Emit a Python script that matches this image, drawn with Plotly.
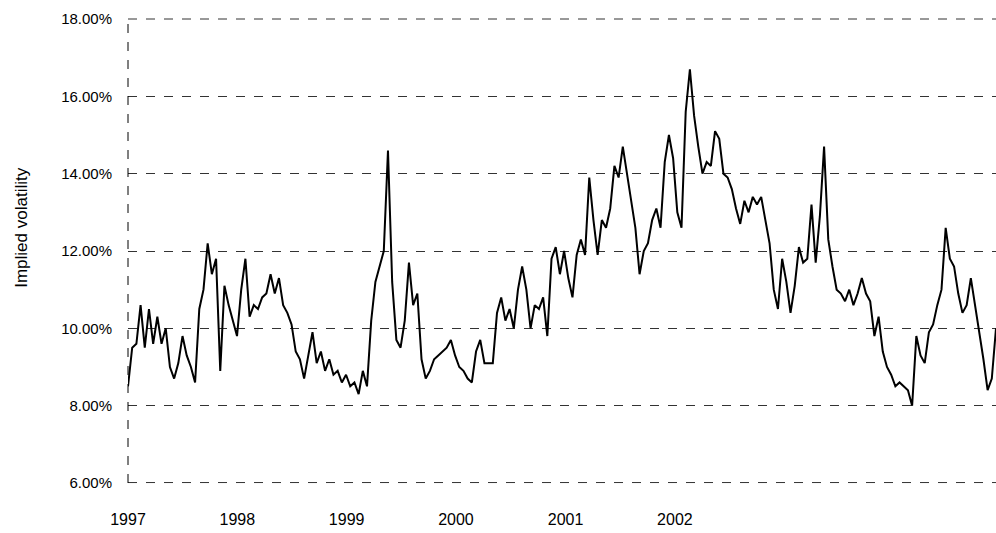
import pandas as pd
import plotly.graph_objects as go

# Biweekly implied volatility readings (%), starting Jan 1997
vol = [
    8.5, 9.5, 9.6, 10.6, 9.5, 10.5, 9.6, 10.3, 9.6, 10.0,
    9.0, 8.7, 9.1, 9.8, 9.3, 9.0, 8.6, 10.5, 11.0, 12.2,
    11.4, 11.8, 8.9, 11.1, 10.6, 10.2, 9.8, 11.0, 11.8, 10.3,
    10.6, 10.5, 10.8, 10.9, 11.4, 10.9, 11.3, 10.6, 10.4, 10.1,
    9.4, 9.2, 8.7, 9.3, 9.9, 9.1, 9.4, 8.9, 9.2, 8.8,
    8.9, 8.6, 8.8, 8.5, 8.6, 8.3, 8.9, 8.5, 10.2, 11.2,
    11.6, 12.0, 14.6, 11.2, 9.7, 9.5, 10.2, 11.7, 10.6, 10.9,
    9.2, 8.7, 8.9, 9.2, 9.3, 9.4, 9.5, 9.7, 9.3, 9.0,
    8.9, 8.7, 8.6, 9.4, 9.7, 9.1, 9.1, 9.1, 10.4, 10.8,
    10.2, 10.5, 10.0, 11.0, 11.6, 11.0, 10.0, 10.6, 10.5, 10.8,
    9.8, 11.8, 12.1, 11.4, 12.0, 11.3, 10.8, 11.9, 12.3, 11.9,
    13.9, 12.8, 11.9, 12.8, 12.6, 13.1, 14.2, 13.9, 14.7, 14.0,
    13.2, 12.6, 11.4, 12.0, 12.2, 12.8, 13.1, 12.6, 14.3, 15.0,
    14.4, 13.0, 12.6, 15.6, 16.7, 15.5, 14.7, 14.0, 14.3, 14.2,
    15.1, 14.9, 14.0, 13.9, 13.6, 13.1, 12.7, 13.3, 13.0, 13.4,
    13.2, 13.4, 12.8, 12.2, 11.0, 10.5, 11.8, 11.2, 10.4, 11.1,
    12.1, 11.7, 11.8, 13.2, 11.7, 12.9, 14.7, 12.3, 11.6, 11.0,
    10.9, 10.7, 11.0, 10.6, 10.9, 11.3, 10.9, 10.7, 9.8, 10.3,
    9.4, 9.0, 8.8, 8.5, 8.6, 8.5, 8.4, 8.0, 9.8, 9.3,
    9.1, 9.9, 10.1, 10.6, 11.0, 12.6, 11.8, 11.6, 10.9, 10.4,
    10.6, 11.3, 10.6, 10.0, 9.2, 8.4, 8.7, 10.0,
]
dates = pd.date_range("1997-01-01", periods=len(vol), freq="14D")

year_ticks = ["1997-01-01", "1998-01-01", "1999-01-01", "2000-01-01",
              "2001-01-01", "2002-01-01"]
year_labels = ["1997", "1998", "1999", "2000", "2001", "2002"]
y_ticks = [6, 8, 10, 12, 14, 16, 18]
y_labels = ["6.00%", "8.00%", "10.00%", "12.00%", "14.00%", "16.00%", "18.00%"]

fig = go.Figure()
fig.add_trace(go.Scatter(
    x=dates, y=vol, mode="lines",
    line=dict(color="black", width=2),
    showlegend=False,
))

font = dict(family="Liberation Sans, Arial, sans-serif", color="black")

grid_line = dict(color="#333333", width=1, dash="dash")
edge_shapes = [
    dict(type="line", xref="paper", yref="paper", x0=0, x1=1,
         y0=0.001, y1=0.001, line=grid_line),
    dict(type="line", xref="paper", yref="paper", x0=0, x1=1,
         y0=1, y1=1, line=grid_line),
    dict(type="line", xref="paper", yref="paper", x0=0, x1=0, y0=0, y1=1,
         line=dict(color="black", width=1, dash="dash")),
]

fig.update_layout(
    width=996, height=533,
    paper_bgcolor="white", plot_bgcolor="white",
    margin=dict(l=128, r=0, t=19, b=50),
    font=dict(**font, size=14),
    xaxis=dict(
        range=[dates[0], dates[-1]],
        tickvals=year_ticks, ticktext=year_labels,
        showgrid=False, zeroline=False, showline=False,
        ticks="", ticklabelstandoff=25,
        tickfont=dict(**font, size=16),
        automargin=False,
    ),
    yaxis=dict(
        range=[6, 18],
        tickvals=y_ticks, ticktext=y_labels,
        showgrid=True, gridcolor="#333333", griddash="dash", gridwidth=1,
        zeroline=False, showline=False,
        ticks="", ticklabelstandoff=15,
        tickfont=dict(**font, size=15),
        automargin=False,
    ),
    annotations=[dict(
        text="Implied volatility", textangle=-90, showarrow=False,
        xref="paper", yref="paper", x=0, y=0.55, xanchor="center",
        yanchor="middle", xshift=-106, font=dict(**font, size=17),
    )],
    shapes=edge_shapes,
)

fig.write_html(
    "out.html",
    config={"displayModeBar": False},
    post_script="document.body.style.margin='0';"
                "document.body.style.overflow='hidden';",
)
